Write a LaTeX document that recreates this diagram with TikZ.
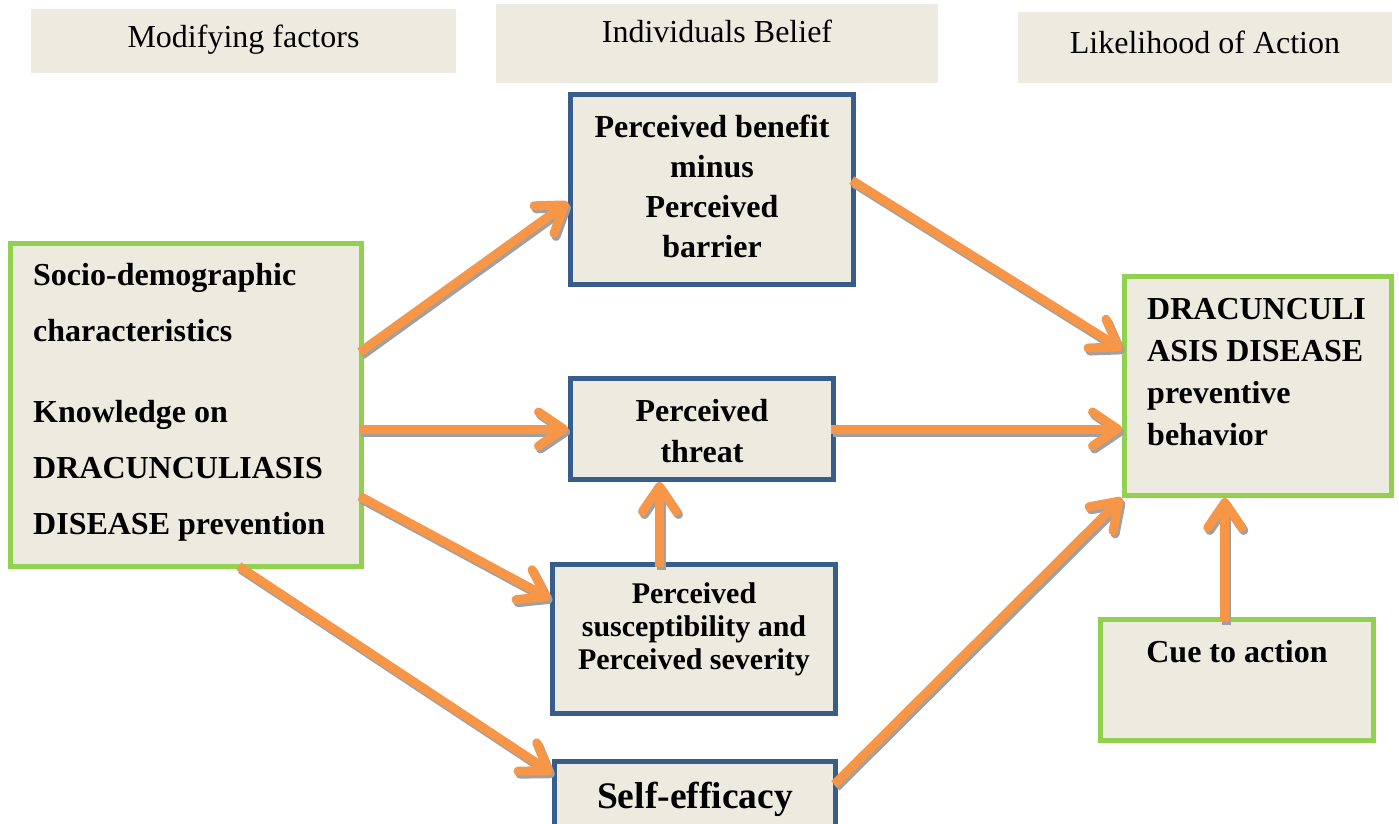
\documentclass[tikz,border=0pt]{standalone}
\usepackage{fontspec}
\setmainfont{Liberation Serif}
\usetikzlibrary{arrows.meta,calc}
\definecolor{cream}{RGB}{237,235,224}
\definecolor{bgreen}{RGB}{146,208,80}
\definecolor{bblue}{RGB}{56,93,138}
\definecolor{aorange}{RGB}{247,150,70}
\definecolor{ashadow}{RGB}{160,160,160}
\newcommand\txtlines[2]{\begin{tabular}[t]{@{}#1@{}}#2\end{tabular}}
\newcommand\conn[2]{\draw[arrs] #1 -- #2; \draw[arr] #1 -- #2;}
\begin{document}
\begin{tikzpicture}[x=1pt,y=-1pt,
  hdr/.style={fill=cream,draw=none,inner sep=0,outer sep=0},
  gbox/.style={draw=bgreen,fill=cream,line width=5pt,inner sep=0},
  bbox/.style={draw=bblue,fill=cream,line width=5pt,inner sep=0},
  htxt/.style={font=\fontsize{32}{38}\selectfont,anchor=base,inner sep=0},
  btxt/.style={font=\fontsize{32}{40}\selectfont\bfseries,anchor=base,inner sep=0},
  arr/.style={draw=aorange,line width=9pt,shorten <=-5pt,-{Straight Barb[length=25pt,width=34pt,round]}},
  arrs/.style={arr,draw=ashadow,transform canvas={xshift=2pt,yshift=-3pt}}
]
\useasboundingbox (0,0) rectangle (1399,823);
\clip (0,0) rectangle (1399,823);
% headers
\node[hdr,minimum width=425pt,minimum height=64pt] (h1) at (243.5,41) {};
\node[hdr,minimum width=442pt,minimum height=79pt] (h2) at (717,43.5) {};
\node[hdr,minimum width=374pt,minimum height=71pt] (h3) at (1205,47.5) {};
\node[htxt] (t1) at (243.5,47) {Modifying factors};
\node[htxt] (t2) at (717,42) {Individuals Belief};
\node[htxt] (t3) at (1205,53) {Likelihood of Action};
% boxes
\node[gbox,minimum width=351pt,minimum height=323pt] (L) at (186,405) {};
\node[bbox,minimum width=283pt,minimum height=190pt] (ben) at (712,189.5) {};
\node[bbox,minimum width=263pt,minimum height=101pt] (thr) at (702,429) {};
\node[bbox,minimum width=283pt,minimum height=149pt] (sus) at (694,639) {};
\node[bbox,minimum width=281pt,minimum height=78.5pt] (self) at (695,800.75) {};
\node[gbox,minimum width=267pt,minimum height=219pt] (R) at (1258,386) {};
\node[gbox,minimum width=273pt,minimum height=121pt] (cue) at (1237,680) {};
% texts
\node[btxt,font=\fontsize{32}{56}\selectfont\bfseries,anchor=base west] (Lt) at (33,285)
  {\txtlines{l}{Socio-demographic\\characteristics\\[25pt]Knowledge on\\DRACUNCULIASIS\\DISEASE prevention}};
\node[btxt] (bent) at (712,137) {\txtlines{c}{Perceived benefit\\minus\\Perceived\\barrier}};
\node[btxt,font=\fontsize{32}{41}\selectfont\bfseries] (thrt) at (702,421) {\txtlines{c}{Perceived\\threat}};
\node[btxt,font=\fontsize{30}{33}\selectfont\bfseries] (sust) at (694,603) {\txtlines{c}{Perceived\\susceptibility and\\Perceived severity}};
\node[btxt,font=\fontsize{37.5}{44}\selectfont\bfseries] (selft) at (695,808) {Self-efficacy};
\node[btxt,font=\fontsize{32}{42}\selectfont\bfseries,anchor=base west] (Rt) at (1147,319)
  {\txtlines{l}{DRACUNCULI\\ASIS DISEASE\\preventive\\behavior}};
\node[btxt] (cuet) at (1237,662) {Cue to action};
% connectors
\coordinate (s5) at ($(sus.north west)!0.38!(sus.north east)$);
\coordinate (c9) at ($(cue.north west)!0.456!(cue.north east)$);
\conn{($(L.north east)!0.33!(L.south east)$)}{($(ben.north west)!0.566!(ben.south west)$)}
\conn{(thr.west -| L.east)}{(thr.west)}
\conn{($(L.north east)!0.785!(L.south east)$)}{($(sus.north west)!0.238!(sus.south west)$)}
\conn{($(L.south west)!0.66!(L.south east)$)}{($(self.north west)!0.17!(self.south west)$)}
\conn{(s5)}{(s5 |- thr.south)}
\conn{($(ben.north east)!0.466!(ben.south east)$)}{($(R.north west)!0.336!(R.south west)$)}
\conn{(thr.east)}{(thr.east -| R.west)}
\conn{($(self.north east)!0.26!(self.south east)$)}{(R.south west)}
\conn{(c9)}{(c9 |- R.south)}
\end{tikzpicture}
\end{document}
